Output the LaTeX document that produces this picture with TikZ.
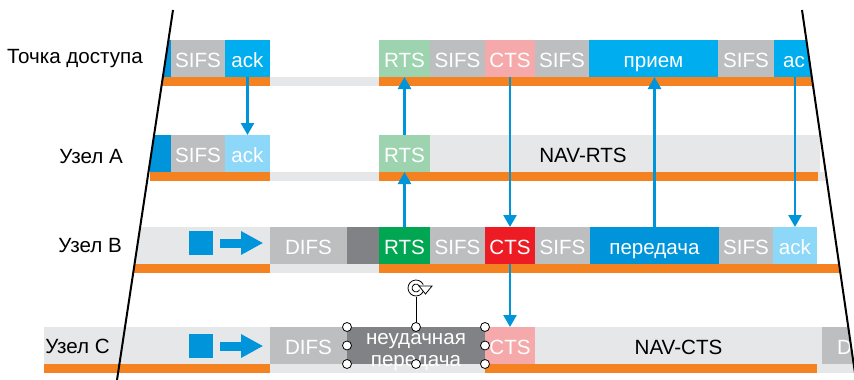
\documentclass[tikz,border=0pt]{standalone}
\usepackage{fontspec}
\setmainfont{Liberation Sans}
\usetikzlibrary{positioning, arrows.meta}

\definecolor{barorange}{HTML}{F58220}
\definecolor{idlegray}{HTML}{E6E7E8}
\definecolor{sifsgray}{HTML}{BCBEC0}
\definecolor{waitgray}{HTML}{808285}
\definecolor{rtspale}{HTML}{9DD4AF}
\definecolor{rtsgreen}{HTML}{00A651}
\definecolor{ctspale}{HTML}{F6A9AB}
\definecolor{ctsred}{HTML}{ED1C24}
\definecolor{rxblue}{HTML}{00AEEF}
\definecolor{txblue}{HTML}{0095DA}
\definecolor{ackpale}{HTML}{8DD8F8}

\tikzset{
  seg/.style={minimum height=37pt, inner sep=0pt, outer sep=0pt, text=white,
    text height=17pt, text depth=0pt, anchor=west},
  bar/.style={minimum height=9pt, inner sep=0pt, outer sep=0pt, anchor=north west, fill=barorange},
  idle/.style={bar, fill=idlegray},
  station/.style={anchor=east, text=black, inner sep=0pt, text height=17pt, text depth=0pt},
  flow/.style={draw=txblue, line width=2.5pt, -{Triangle[length=12pt, width=13pt]}},
  pending/.style={draw=txblue, line width=9pt, -{Triangle[length=22pt, width=22pt]}},
  handle/.style={circle, draw, fill=white, line width=0.8pt, minimum size=9pt, inner sep=0pt},
}

\begin{document}
\begin{tikzpicture}[x=1pt, y=-1pt, font=\fontsize{20.6}{22}\selectfont]
  \useasboundingbox (0,0) rectangle (854,380);

  \coordinate (edgeLT) at (173,10);
  \coordinate (edgeLB) at (117,380);
  \coordinate (edgeRT) at (802,10);
  \coordinate (edgeRB) at (856,380);

  \begin{scope}
    \clip (edgeLT) -- (edgeRT) -- (edgeRB) -- (0,380) -- (0,300) -- (129,300) -- cycle;

    % access point
    \node[seg, fill=txblue, minimum width=21pt] (apPrev) at (150,58.5) {};
    \node[seg, fill=sifsgray, minimum width=54pt, right=0pt of apPrev] (apSifs) {SIFS};
    \node[seg, fill=rxblue, minimum width=45pt, right=0pt of apSifs] (apAck) {ack};
    \node[seg, fill=rtspale, minimum width=51pt] (apRts) at (379,58.5) {RTS};
    \node[seg, fill=sifsgray, minimum width=55pt, right=0pt of apRts] (apSifs2) {SIFS};
    \node[seg, fill=ctspale, minimum width=50pt, right=0pt of apSifs2] (apCts) {CTS};
    \node[seg, fill=sifsgray, minimum width=54pt, right=0pt of apCts] (apSifs3) {SIFS};
    \node[seg, fill=rxblue, minimum width=129pt, right=0pt of apSifs3] (apRx) {прием};
    \node[seg, fill=sifsgray, minimum width=56pt, right=0pt of apRx] (apSifs4) {SIFS};
    \node[seg, fill=rxblue, minimum width=40pt, right=0pt of apSifs4] (apAc) {ac};
    \node[bar, minimum width=120pt] (apBar1) at (150,77) {};
    \node[idle, minimum width=109pt] (apIdle) at (270,77) {};
    \node[bar, minimum width=480pt] (apBar2) at (379,77) {};

    % node A
    \node[seg, fill=txblue, minimum width=21pt] (aPrev) at (150,153.5) {};
    \node[seg, fill=sifsgray, minimum width=54pt, right=0pt of aPrev] (aSifs) {SIFS};
    \node[seg, fill=ackpale, minimum width=45pt, right=0pt of aSifs] (aAck) {ack};
    \node[seg, fill=rtspale, minimum width=51pt] (aRts) at (379,153.5) {RTS};
    \node[seg, fill=idlegray, minimum width=390pt, right=0pt of aRts] (aNav) {};
    \node[seg, text=black, anchor=center] (aNavText) at (583,153.5) {NAV-RTS};
    \node[bar, minimum width=120pt] (aBar1) at (150,172) {};
    \node[idle, minimum width=109pt] (aIdle) at (270,172) {};
    \node[bar, minimum width=439pt] (aBar2) at (379,172) {};
    \node[idle, minimum width=50pt] (aIdle2) at (818,172) {};

    % node B
    \node[seg, fill=idlegray, minimum width=150pt] (bBg) at (120,245.5) {};
    \node[fill=txblue, minimum size=24pt, inner sep=0pt] (bSq) at (201,243) {};
    \node[seg, fill=sifsgray, minimum width=77pt] (bDifs) at (270,245.5) {DIFS};
    \node[seg, fill=waitgray, minimum width=32pt, right=0pt of bDifs] (bWait) {};
    \node[seg, fill=rtsgreen, minimum width=51pt, right=0pt of bWait] (bRts) {RTS};
    \node[seg, fill=sifsgray, minimum width=55pt, right=0pt of bRts] (bSifs) {SIFS};
    \node[seg, fill=ctsred, minimum width=50pt, right=0pt of bSifs] (bCts) {CTS};
    \node[seg, fill=sifsgray, minimum width=55pt, right=0pt of bCts] (bSifs2) {SIFS};
    \node[seg, fill=txblue, minimum width=129pt, right=0pt of bSifs2] (bData) {передача};
    \node[seg, fill=sifsgray, minimum width=54pt, right=0pt of bData] (bSifs3) {SIFS};
    \node[seg, fill=ackpale, minimum width=44pt, right=0pt of bSifs3] (bAck) {ack};
    \node[bar, minimum width=150pt] (bBar1) at (120,264) {};
    \node[idle, minimum width=109pt] (bIdle) at (270,264) {};
    \node[bar, minimum width=480pt] (bBar2) at (379,264) {};

    % node C
    \node[seg, fill=idlegray, minimum width=226pt] (cBg) at (44,345.5) {};
    \node[fill=txblue, minimum size=24pt, inner sep=0pt] (cSq) at (201,346) {};
    \node[seg, fill=sifsgray, minimum width=77pt] (cDifs) at (270,345.5) {DIFS};
    \node[seg, fill=waitgray, minimum width=138pt, right=0pt of cDifs] (cFail) {};
    \node[seg, fill=ctspale, minimum width=50pt, right=0pt of cFail] (cCts) {CTS};
    \node[seg, fill=idlegray, text=black, minimum width=287pt, right=0pt of cCts] (cNav) {NAV-CTS};
    \node[seg, fill=sifsgray, minimum width=77pt, right=0pt of cNav] (cDifs2) {DIFS};
    \node[bar, minimum width=226pt] (cBar1) at (44,364) {};
    \node[idle, minimum width=215pt] (cIdle) at (270,364) {};
    \node[bar, minimum width=332pt] (cBar2) at (485,364) {};
    \node[idle, minimum width=50pt] (cIdle2) at (817,364) {};
    \node[text=white, align=center, inner sep=0pt] (cFailText)
      at ([yshift=-7pt]cFail.center) {неудачная\\передача};
  \end{scope}

  \draw[pending] ([xshift=7pt]bSq.east) -- ([xshift=50pt]bSq.east);
  \draw[pending] ([xshift=7pt]cSq.east) -- ([xshift=50pt]cSq.east);

  \node[station] (apName) at (143,54.5) {Точка доступа};
  \node[station] (aName) at (123,154.5) {Узел A};
  \node[station] (bName) at (122,244) {Узел B};
  \node[station] (cName) at (110,344.5) {Узел C};

  \draw[line width=2pt] (edgeLT) -- (edgeLB);
  \draw[line width=2pt] (edgeRT) -- (edgeRB);

  \draw[flow] (apAck.south) -- (aAck.north);
  \draw[flow] (aRts.north) -- (apRts.south);
  \draw[flow] (bRts.north) -- (aRts.south);
  \draw[flow] (apCts.south) -- (bCts.north);
  \draw[flow] (bCts.south) -- (cCts.north);
  \draw[flow] (bData.north) -- (bData.north |- apRx.south);
  \draw[flow] (bAck.north |- apAc.south) -- (bAck.north);

  % selection frame
  \coordinate (rotTop) at ([yshift=30pt]cFail.north);
  \coordinate (rotC) at ([yshift=39pt]cFail.north);
  \draw[line width=0.8pt] (cFail.north) -- (rotTop);
  \draw[line width=0.8pt] (rotC) ++(25:8pt) arc[start angle=25, end angle=335, radius=8pt];
  \draw[line width=0.8pt] (rotC) ++(25:4pt) arc[start angle=25, end angle=335, radius=4pt];
  \filldraw[fill=white, line width=0.8pt] ([shift={(3pt,2pt)}]rotC) -- ([shift={(16pt,2pt)}]rotC)
    -- ([shift={(9.5pt,-6pt)}]rotC) -- cycle;
  \foreach \a/\n in {north west/nw, west/w, south west/sw, north/n, south/s,
                     north east/ne, east/e, south east/se}
    \node[handle] (hdl\n) at (cFail.\a) {};
\end{tikzpicture}
\end{document}
